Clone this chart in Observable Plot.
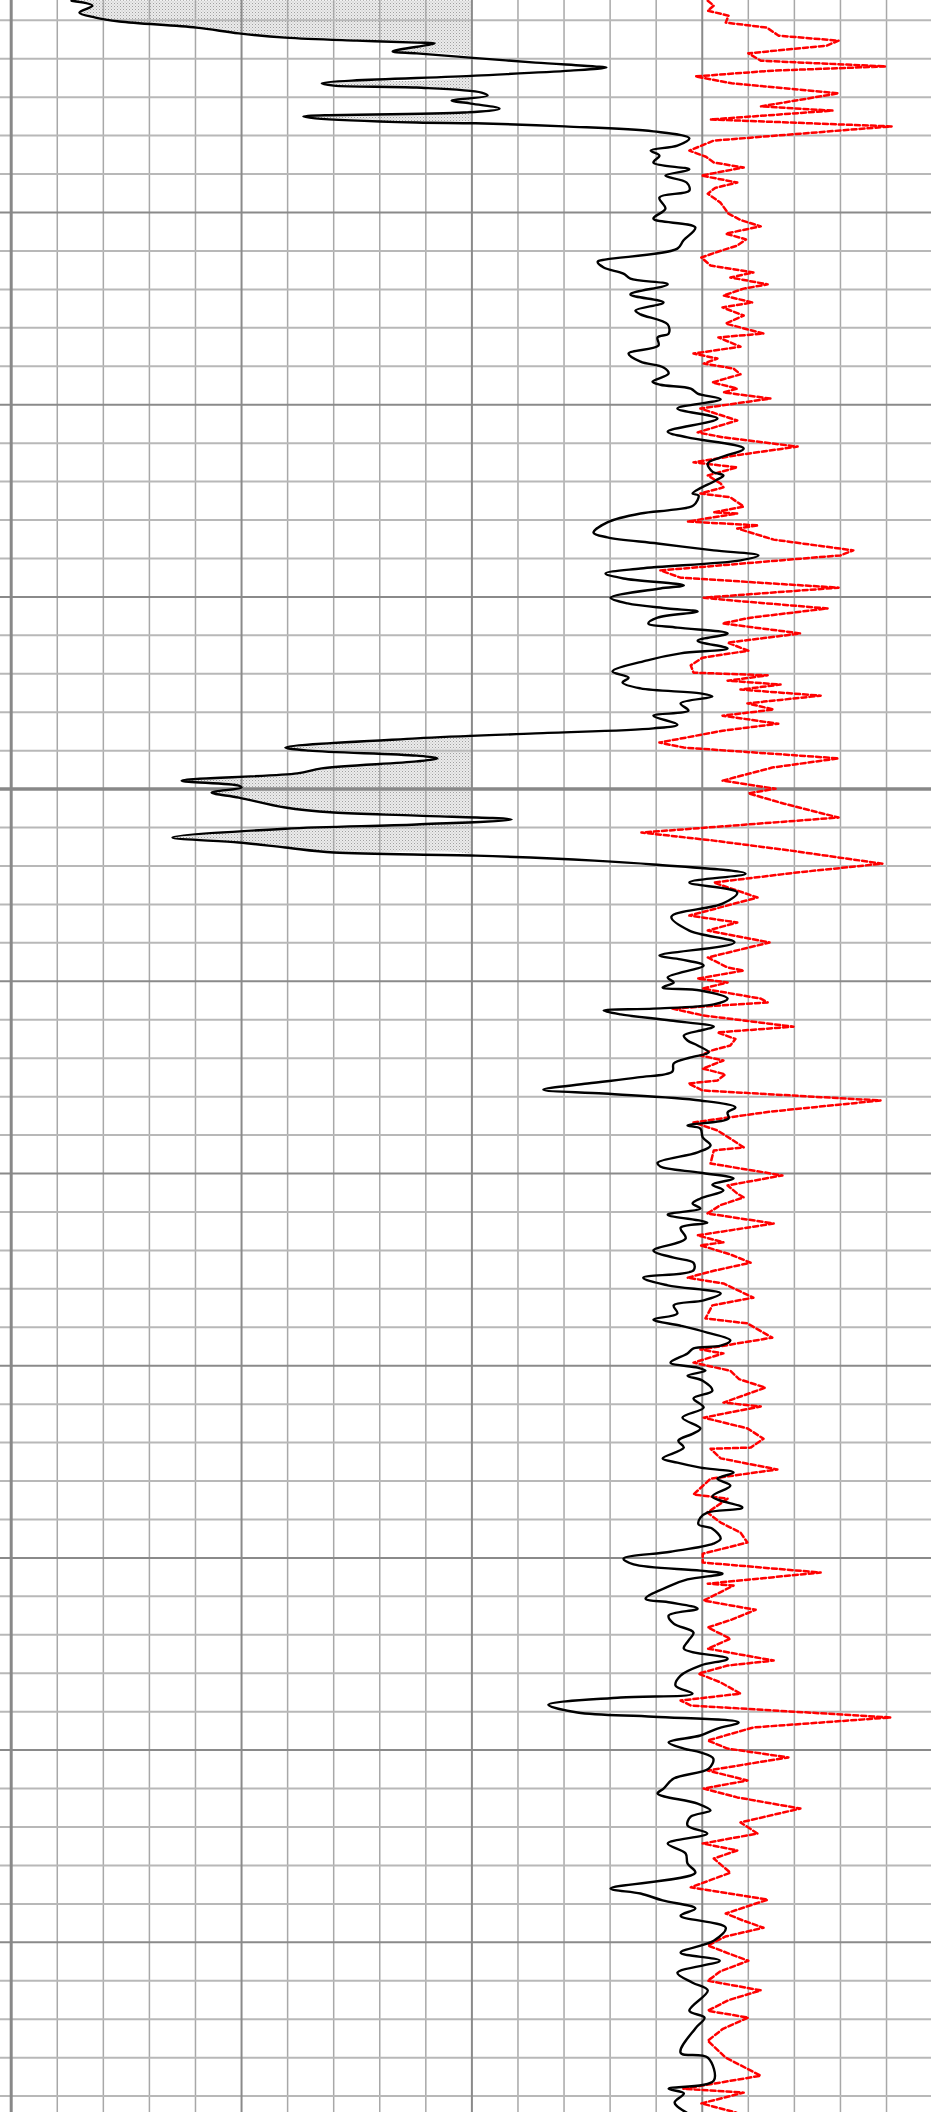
<!DOCTYPE html>
<html>
<head>
<meta charset="utf-8">
<script src="https://cdn.jsdelivr.net/npm/d3@7"></script>
<script src="https://cdn.jsdelivr.net/npm/@observablehq/plot@0.6"></script>
<style>
html,body{margin:0;padding:0;background:#fff;}
#chart svg{display:block;}
</style>
</head>
<body>
<div id="chart"></div>
<script>
// Depth window and track scale
const depthTop = 794.85, depthBottom = 1344.27;
const trackMin = 0, trackMax = 200;
const shadeBaseline = 100;

// Grid (track units / depth)
const xMinor = [10,20,30,40,60,70,80,90,110,120,130,140,160,170,180,190];
const xMajor = [50,100,150];
const xEdge = [0];
const depthMajor = [850,900,950,1050,1100,1150,1200,1250,1300];
const depthHeavy = [1000];

// Black curve: [depth, value]
const blackCurve = [
[794.9,13.1],[796.2,17.6],[798.0,14.8],[799.3,18.3],[800.3,23.5],[801.9,40.2],[803.4,49.4],[804.5,59.5],[805.3,75.0],[805.8,88.0],
[806.0,91.9],[808.1,82.8],[808.6,88.0],[809.7,99.5],[811.0,113.8],[812.0,126.6],[812.3,129.2],[813.1,121.4],[814.4,100.8],[816.4,67.4],
[817.0,70.0],[817.5,88.0],[818.8,102.1],[819.6,103.4],[820.9,95.6],[821.6,99.5],[823.0,106.0],[824.0,98.2],[825.0,63.4],[825.5,66.0],
[826.6,88.0],[826.8,100.8],[827.6,120.1],[828.9,139.4],[830.7,147.2],[832.6,144.6],[833.9,138.8],[835.2,140.7],[837.0,139.4],[838.8,147.2],
[840.4,142.0],[842.2,146.6],[844.3,147.2],[846.1,140.7],[849.0,142.0],[851.6,139.4],[853.9,148.5],[857.3,145.9],[859.4,144.6],[862.2,129.2],
[862.8,127.3],[864.3,128.6],[865.9,132.9],[867.2,134.4],[868.7,142.5],[871.3,134.4],[873.4,141.6],[875.5,135.5],[876.5,136.6],[879.1,142.5],
[881.5,142.7],[882.5,140.3],[884.6,140.5],[886.7,134.0],[888.8,136.6],[890.3,141.6],[891.9,142.7],[894.0,139.2],[894.8,140.9],[895.8,147.5],
[897.1,149.0],[898.6,154.0],[901.0,144.6],[903.6,153.3],[907.0,142.5],[908.5,146.8],[911.4,159.0],[913.7,154.0],[915.3,151.2],[917.4,152.2],
[918.4,154.6],[919.7,152.9],[923.1,147.9],[923.6,149.2],[926.2,148.1],[927.3,143.8],[928.3,136.6],[930.6,129.4],[933.3,126.4],[934.5,129.4],
[936.1,140.3],[937.9,152.5],[939.2,162.2],[940.5,158.3],[942.6,136.6],[943.9,129.0],[945.2,132.9],[947.0,146.0],[947.8,140.9],[950.2,130.1],
[951.7,133.8],[953.0,142.5],[953.8,149.0],[955.4,140.3],[956.9,138.3],[958.0,144.6],[959.5,155.5],[961.4,149.0],[963.4,155.5],[964.7,145.3],
[966.5,138.1],[969.4,130.5],[971.0,134.0],[972.3,132.7],[973.8,136.6],[975.1,149.6],[975.9,152.2],[977.7,145.3],[979.6,147.0],[980.9,139.4],
[983.2,144.6],[984.2,139.4],[985.5,113.8],[986.8,88.0],[989.2,59.5],[990.0,64.7],[991.3,88.0],[992.0,92.5],[992.8,88.0],[994.6,67.4],
[995.9,62.1],[997.8,37.0],[999.1,49.4],[999.6,50.0],[1000.9,43.5],[1002.2,49.4],[1004.8,59.5],[1006.1,70.0],[1006.9,88.0],[1007.9,108.6],
[1009.2,88.0],[1010.3,59.5],[1012.6,35.0],[1013.9,49.4],[1015.2,59.5],[1016.5,70.0],[1017.3,100.8],[1018.6,126.6],[1019.6,139.4],[1022.0,159.4],
[1024.3,147.2],[1026.9,157.6],[1029.8,154.4],[1033.2,143.3],[1036.8,147.2],[1039.9,157.0],[1043.3,140.7],[1044.3,145.3],[1045.9,150.3],[1049.0,142.5],
[1050.3,143.8],[1051.6,141.4],[1052.4,149.6],[1054.5,155.5],[1056.0,152.5],[1057.1,139.4],[1057.6,128.6],[1058.6,132.3],[1060.2,143.1],[1061.8,152.5],
[1062.6,150.3],[1064.1,146.0],[1065.4,146.8],[1066.7,149.0],[1068.5,151.4],[1069.8,147.5],[1071.4,143.8],[1073.5,143.5],[1075.0,136.0],[1076.6,125.1],
[1078.2,115.5],[1079.2,128.6],[1081.0,149.6],[1082.8,157.2],[1084.1,155.5],[1085.7,155.7],[1087.5,146.8],[1088.3,149.6],[1090.6,150.1],[1092.7,151.8],
[1094.5,149.0],[1097.2,140.3],[1098.2,140.9],[1099.8,149.6],[1101.3,156.8],[1102.9,152.2],[1104.4,154.6],[1106.5,149.6],[1107.8,147.9],[1109.1,149.6],
[1110.7,142.5],[1112.8,151.1],[1114.1,145.3],[1116.9,146.4],[1120.0,139.4],[1121.9,143.8],[1123.2,148.1],[1125.2,148.1],[1127.1,137.2],[1129.1,142.5],
[1131.2,154.0],[1133.0,150.3],[1134.3,143.8],[1136.4,144.6],[1138.0,139.4],[1139.6,145.3],[1141.4,151.1],[1143.4,156.1],[1144.8,154.0],[1145.5,148.1],
[1146.8,146.8],[1149.2,143.1],[1150.5,149.0],[1151.3,150.7],[1152.6,146.8],[1153.9,150.1],[1156.5,152.2],[1158.5,148.1],[1160.9,150.3],[1163.5,145.7],
[1166.3,149.6],[1167.6,148.1],[1169.5,144.8],[1171.3,146.0],[1174.1,141.4],[1175.2,144.6],[1176.5,149.6],[1177.8,156.8],[1179.4,153.3],[1181.2,156.1],
[1184.0,152.2],[1186.9,158.7],[1188.2,151.1],[1189.5,149.6],[1191.3,149.2],[1192.4,152.2],[1195.0,154.0],[1196.3,152.4],[1198.4,143.1],[1200.2,132.9],
[1201.7,135.1],[1203.3,149.6],[1204.1,154.4],[1205.6,146.8],[1207.2,143.1],[1210.6,137.7],[1211.6,143.1],[1213.2,149.0],[1215.0,142.7],[1217.1,143.8],
[1219.4,148.1],[1221.5,147.0],[1223.6,146.0],[1226.2,155.5],[1228.0,149.6],[1230.6,145.3],[1233.2,144.2],[1235.3,147.9],[1236.3,132.3],[1238.2,116.6],
[1240.2,122.9],[1241.3,139.4],[1242.8,157.9],[1244.4,153.3],[1246.2,149.6],[1248.0,142.7],[1249.6,146.0],[1250.6,149.6],[1252.2,152.4],[1254.8,151.4],
[1257.4,143.8],[1260.0,141.6],[1261.3,140.3],[1263.9,149.0],[1265.7,151.8],[1267.3,147.5],[1269.6,146.8],[1271.7,151.1],[1274.3,142.5],[1276.9,146.4],
[1279.5,146.8],[1281.9,148.5],[1286.0,130.1],[1287.3,136.6],[1289.1,141.4],[1291.2,148.5],[1293.1,145.3],[1296.2,155.1],[1299.6,152.5],[1302.7,145.3],
[1304.8,153.8],[1307.9,144.6],[1310.5,147.9],[1312.5,151.2],[1317.8,147.2],[1319.6,150.5],[1322.4,148.5],[1328.7,145.3],[1330.0,151.2],[1336.0,152.5],
[1338.1,142.7],[1339.3,146.0],[1341.7,144.0],[1344.3,146.6]
];

// Red dashed curve: [depth, value]
const redCurve = [
[794.9,151.2],[796.2,152.5],[797.5,151.2],[798.8,155.7],[800.6,155.1],[801.9,164.0],[804.0,166.6],[805.3,179.6],[806.6,177.0],[808.6,160.0],
[810.5,162.7],[812.0,189.8],[813.1,165.2],[814.6,148.5],[816.4,156.4],[819.0,179.6],[822.4,162.7],[823.5,178.3],[825.8,151.8],[827.6,191.1],
[831.3,152.5],[833.9,147.2],[835.5,150.8],[837.0,152.5],[838.3,159.0],[839.2,155.0],[840.4,149.8],[842.2,157.6],[843.6,152.8],[845.1,151.2],
[847.5,154.0],[850.3,155.7],[852.0,158.4],[853.6,162.7],[855.5,155.1],[857.0,159.5],[858.6,157.6],[860.2,153.4],[861.7,149.8],[863.8,151.8],
[865.6,161.1],[866.9,156.1],[868.7,164.2],[869.8,159.0],[871.6,154.6],[873.4,160.9],[874.7,154.4],
[876.8,159.0],[878.9,155.1],[881.5,163.3],[882.5,153.5],[884.9,158.3],[886.7,148.1],[888.0,153.3],[889.3,150.3],[890.6,156.8],[892.1,158.3],
[894.2,152.2],[895.8,157.6],[896.8,154.6],[898.4,164.8],[901.0,149.6],[904.1,157.6],[907.2,149.0],[908.5,154.6],[910.9,170.7],[913.0,158.3],
[915.0,148.1],[916.3,157.6],[918.4,151.2],[920.5,154.0],[921.5,154.6],[923.1,149.6],[924.1,156.1],[926.5,159.0],[928.0,152.5],[928.3,157.6],
[930.4,146.8],[931.4,162.2],[932.2,157.6],[935.1,165.5],[937.9,182.8],[939.2,180.0],[943.1,140.9],[945.0,145.3],[947.6,179.6],[950.2,150.3],
[950.9,156.1],[953.0,177.2],[955.4,160.5],[956.9,154.4],[959.5,171.3],[961.9,155.5],[964.0,160.0],[965.8,150.1],[967.8,147.5],[969.7,148.1],
[970.4,164.2],[971.8,155.5],[972.8,167.0],[974.1,158.3],[975.7,175.7],[977.7,159.8],[979.3,165.5],[980.9,154.4],[983.0,166.5],[984.8,154.4],
[987.9,140.7],[989.2,146.0],[992.0,179.6],[994.4,165.2],[997.8,154.4],[999.9,165.9],[1001.1,160.0],[1003.8,167.8],[1007.4,179.6],[1011.3,136.8],
[1013.4,152.5],[1016.0,169.2],[1019.4,189.1],[1021.7,170.5],[1024.3,152.5],[1028.2,162.0],[1032.9,147.2],[1034.7,157.6],[1036.8,151.2],[1039.9,164.6],
[1043.8,151.2],[1046.4,155.5],[1047.2,159.0],[1049.3,149.0],[1050.3,155.5],[1051.9,150.1],[1054.5,162.7],[1055.5,164.2],[1057.1,143.5],[1058.9,150.3],
[1061.8,169.8],[1063.3,153.3],[1065.0,157.2],[1066.7,156.1],[1068.0,152.0],[1069.3,149.6],[1070.6,154.6],[1072.7,150.1],[1074.2,155.0],[1075.8,153.3],
[1076.6,147.0],[1078.4,150.1],[1081.0,188.7],
[1083.9,164.8],[1086.7,148.1],[1088.8,153.3],[1091.0,156.2],[1093.2,159.0],[1094.0,152.5],[1097.4,151.8],[1100.5,167.4],[1103.1,155.5],[1105.2,157.6],[1106.2,159.0],
[1108.2,154.0],[1110.4,151.1],[1113.0,165.5],[1116.1,149.0],[1117.9,154.6],[1118.7,149.6],[1121.0,156.0],[1123.2,160.5],[1125.3,152.5],[1127.1,146.8],[1128.6,154.6],[1132.3,161.1],[1134.3,152.2],
[1137.7,150.7],[1139.0,159.8],[1142.7,165.2],[1145.8,149.6],[1146.8,154.6],[1149.2,148.1],[1151.3,156.1],[1153.5,158.0],[1155.7,163.7],[1159.6,154.6],[1160.6,162.7],
[1163.5,150.3],[1166.3,159.8],[1169.0,163.3],[1171.3,160.5],[1171.6,151.8],[1174.1,154.0],[1177.0,166.3],[1179.4,151.8],[1183.5,148.1],[1184.6,155.5],
[1188.2,151.1],[1190.8,154.0],[1193.4,158.3],[1196.0,159.8],[1198.9,150.1],[1201.2,150.1],[1203.8,175.7],[1206.7,151.2],[1207.2,156.8],[1211.1,150.3],
[1213.5,161.6],[1216.0,156.5],[1218.1,151.2],[1221.0,156.1],[1223.6,151.2],[1226.7,165.5],[1228.0,155.5],[1230.1,149.2],[1232.4,154.0],[1235.3,158.3],[1237.1,145.3],
[1238.4,147.5],[1241.5,190.9],[1244.1,161.1],[1247.5,151.2],[1249.6,155.5],[1251.9,168.7],[1255.3,151.2],[1257.9,159.8],[1260.0,150.3],[1262.3,157.6],
[1265.2,171.3],[1268.8,158.3],[1271.7,162.0],[1274.3,150.1],[1276.1,157.6],[1278.2,152.5],[1281.9,156.1],[1285.7,147.5],[1288.9,164.2],[1292.5,155.1],
[1294.3,158.8],[1296.2,163.3],[1298.5,155.0],[1300.8,151.2],[1302.8,155.5],[1304.8,160.0],[1307.5,154.0],[1310.0,151.2],[1312.5,162.7],[1315.0,155.8],[1317.8,151.2],[1319.6,160.0],[1322.5,154.5],[1325.6,151.2],[1330.0,155.1],[1334.7,162.7],
[1338.1,145.9],[1339.1,159.0],[1341.9,149.8],[1344.3,157.4]
];

const black = blackCurve.map(([depth, value]) => ({depth, value}));
const red = redCurve.map(([depth, value]) => ({depth, value}));
const depthMinor = d3.range(800, 1345, 10).filter(d => !depthMajor.includes(d) && !depthHeavy.includes(d));

const chart = Plot.plot({
  width: 931,
  height: 2112,
  marginTop: 0, marginRight: 0, marginBottom: 0, marginLeft: 0,
  x: {domain: [trackMin, trackMax], range: [10.7, 932.1], axis: null},
  y: {domain: [depthTop, depthBottom], range: [0, 2112], axis: null},
  style: {background: "#fff"},
  marks: [
    Plot.areaX(black, {
      y: "depth",
      x1: () => shadeBaseline,
      x2: d => Math.min(d.value, shadeBaseline),
      fill: "url(#stipple)",
      curve: "catmull-rom",
      clip: true
    }),
    Plot.ruleX(xMinor, {stroke: "#a8a8a8", strokeWidth: 1.5}),
    Plot.ruleY(depthMinor, {stroke: "#b8b8b8", strokeWidth: 2}),
    Plot.ruleY(depthMajor, {stroke: "#8a8a8a", strokeWidth: 2}),
    Plot.ruleY(depthHeavy, {stroke: "#888", strokeWidth: 3.5}),
    Plot.ruleX(xMajor, {stroke: "#8a8a8a", strokeWidth: 2}),
    Plot.ruleX(xEdge, {stroke: "#888", strokeWidth: 3}),
    Plot.lineX(red, {
      x: "value", y: "depth",
      stroke: "#ff0000", strokeWidth: 2.5, strokeDasharray: "5,3",
      clip: true
    }),
    Plot.lineX(black, {
      x: "value", y: "depth",
      stroke: "#000", strokeWidth: 2.4,
      curve: "catmull-rom",
      clip: true
    })
  ]
});

d3.select(chart).insert("defs", ":first-child").html(
  '<pattern id="stipple" width="3" height="3" patternUnits="userSpaceOnUse">' +
  '<rect width="3" height="3" fill="#ebebeb"></rect>' +
  '<rect x="0" y="0" width="1" height="1" fill="#a0a0a0"></rect>' +
  '<rect x="1.5" y="1.5" width="1" height="1" fill="#bdbdbd"></rect>' +
  '</pattern>'
);

document.getElementById("chart").appendChild(chart);
</script>
</body>
</html>
